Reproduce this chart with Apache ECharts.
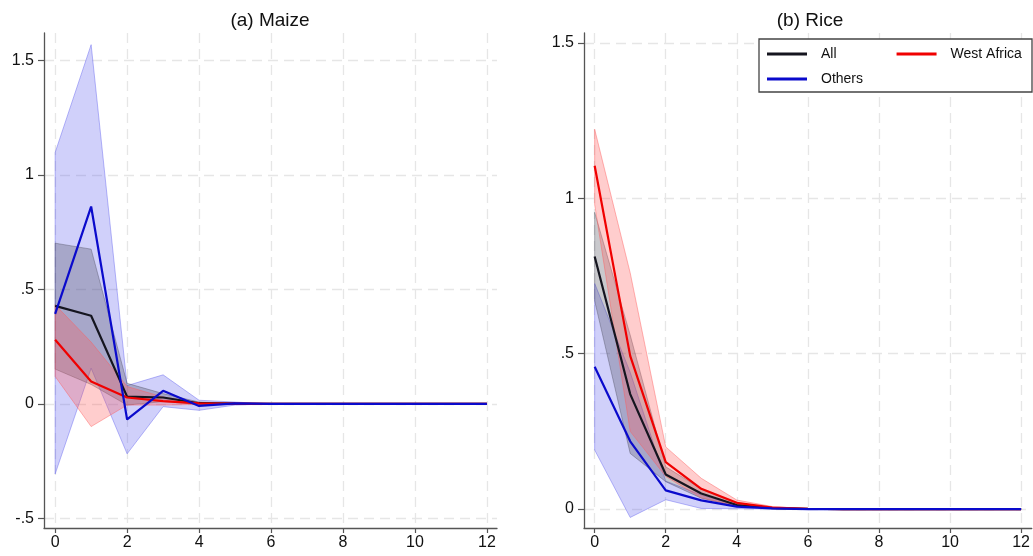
<!DOCTYPE html>
<html>
<head>
<meta charset="utf-8">
<script src="https://cdn.jsdelivr.net/npm/echarts@6/dist/echarts.min.js"></script>
<style>html,body{margin:0;padding:0;background:#fff;}#c{width:1033px;height:556px;}</style>
</head>
<body>
<div id="c"></div>
<script>
// ---- data ----
const horizons = [0,1,2,3,4,5,6,7,8,9,10,11,12];
const xTicks = [0,2,4,6,8,10,12];
const yTicksMaize = [-0.5,0,0.5,1,1.5];
const yTicksRice = [0,0.5,1,1.5];

// (a) Maize
const maizeAll    = [0.428, 0.385, 0.032, 0.028, 0.003, 0.001, 0, 0, 0, 0, 0, 0, 0];
const maizeAllLo  = [0.152, 0.085, -0.005, 0.010, -0.002, 0, 0, 0, 0, 0, 0, 0, 0];
const maizeAllHi  = [0.702, 0.676, 0.090, 0.045, 0.008, 0.002, 0, 0, 0, 0, 0, 0, 0];
const maizeWA     = [0.280, 0.098, 0.028, 0.012, 0.002, 0.001, 0, 0, 0, 0, 0, 0, 0];
const maizeWALo   = [0.120, -0.099, -0.005, -0.005, -0.002, 0, 0, 0, 0, 0, 0, 0, 0];
const maizeWAHi   = [0.433, 0.270, 0.076, 0.030, 0.006, 0.002, 0, 0, 0, 0, 0, 0, 0];
const maizeOth    = [0.393, 0.862, -0.068, 0.057, -0.009, 0.002, 0, 0, 0, 0, 0, 0, 0];
const maizeOthLo  = [-0.306, 0.156, -0.218, -0.012, -0.028, -0.005, 0, 0, 0, 0, 0, 0, 0];
const maizeOthHi  = [1.098, 1.569, 0.080, 0.127, 0.016, 0.008, 0, 0, 0, 0, 0, 0, 0];

// (b) Rice
const riceAll     = [0.813, 0.370, 0.111, 0.050, 0.013, 0.003, 0.001, 0, 0, 0, 0, 0, 0];
const riceAllLo   = [0.670, 0.179, 0.088, 0.035, 0.009, 0.002, 0, 0, 0, 0, 0, 0, 0];
const riceAllHi   = [0.955, 0.560, 0.136, 0.065, 0.018, 0.004, 0.001, 0, 0, 0, 0, 0, 0];
const riceWA      = [1.105, 0.493, 0.151, 0.065, 0.020, 0.005, 0.001, 0, 0, 0, 0, 0, 0];
const riceWALo    = [0.980, 0.250, 0.105, 0.036, 0.011, 0.003, 0, 0, 0, 0, 0, 0, 0];
const riceWAHi    = [1.222, 0.760, 0.200, 0.099, 0.029, 0.008, 0.001, 0, 0, 0, 0, 0, 0];
const riceOth     = [0.458, 0.218, 0.060, 0.028, 0.008, 0.002, 0, 0, 0, 0, 0, 0, 0];
const riceOthLo   = [0.190, -0.027, 0.030, 0.002, 0.001, 0, 0, 0, 0, 0, 0, 0, 0];
const riceOthHi   = [0.726, 0.440, 0.090, 0.045, 0.013, 0.004, 0, 0, 0, 0, 0, 0, 0];

// ---- styles ----
const FONT = 'Liberation Sans, Arial, Helvetica, sans-serif';
const C_ALL = '#15151f', C_WA = '#f00000', C_OTH = '#0a0acc';
const F_ALL = 'rgba(60,60,75,0.28)', S_ALL = 'rgba(60,60,75,0.35)';
const F_WA = 'rgba(255,90,90,0.30)', S_WA = 'rgba(255,90,90,0.45)';
const F_OTH = 'rgba(100,100,240,0.30)', S_OTH = 'rgba(100,100,240,0.45)';

const fmt = v => {
  if (v === 0) return '0';
  let s = String(v);
  return s.replace(/^0\./, '.').replace(/^-0\./, '-.');
};

function pairs(vals) { return horizons.map((h, i) => [h, vals[i]]); }

function band(name, gi, lo, hi, fill, stroke) {
  return {
    type: 'custom', name: name, xAxisIndex: gi, yAxisIndex: gi,
    data: [[0, 0]], silent: true, z: 1,
    renderItem: function (params, api) {
      const pts = [];
      for (let i = 0; i < horizons.length; i++) pts.push(api.coord([horizons[i], hi[i]]));
      for (let i = horizons.length - 1; i >= 0; i--) pts.push(api.coord([horizons[i], lo[i]]));
      return { type: 'polygon', shape: { points: pts }, style: { fill: fill, stroke: stroke, lineWidth: 1 } };
    }
  };
}
function line(name, gi, vals, color) {
  return {
    type: 'line', name: name, xAxisIndex: gi, yAxisIndex: gi, data: pairs(vals),
    symbol: 'none', z: 3, lineStyle: { color: color, width: 2.2 }, itemStyle: { color: color },
    animation: false
  };
}

function xAxis(gi, min, max) {
  return {
    type: 'value', gridIndex: gi, min: min, max: max,
    axisLine: { show: true, onZero: false, lineStyle: { color: '#555', width: 1.3 } },
    axisTick: { show: true, length: 5, customValues: xTicks, lineStyle: { color: '#555', width: 1.2 } },
    axisLabel: { customValues: xTicks, fontSize: 16, color: '#111', margin: 7, fontFamily: FONT },
    splitLine: { show: true, lineStyle: { color: '#e6e6e6', type: [10, 6], width: 1.3 } }
  };
}
function yAxis(gi, min, max, ticks) {
  return {
    type: 'value', gridIndex: gi, min: min, max: max,
    axisLine: { show: true, onZero: false, lineStyle: { color: '#555', width: 1.3 } },
    axisTick: { show: true, length: 6, customValues: ticks, lineStyle: { color: '#555', width: 1.2 } },
    axisLabel: { customValues: ticks, formatter: fmt, fontSize: 16, color: '#111', margin: 10, fontFamily: FONT },
    splitLine: { show: true, lineStyle: { color: '#e6e6e6', type: [10, 6], width: 1.3 } }
  };
}

const chart = echarts.init(document.getElementById('c'), null, { renderer: 'canvas' });
chart.setOption({
  animation: false,
  backgroundColor: '#fff',
  textStyle: { fontFamily: FONT },
  grid: [
    { left: 44, top: 33, width: 453, height: 495 },
    { left: 584, top: 33, width: 454, height: 495 }
  ],
  xAxis: [xAxis(0, -0.31, 12.28), xAxis(1, -0.30, 12.3)],
  yAxis: [yAxis(0, -0.542, 1.62, yTicksMaize), yAxis(1, -0.061, 1.532, yTicksRice)],
  legend: [
    { data: ['All', 'West Africa'], left: 767, top: 47, padding: 0, itemGap: 60, itemWidth: 40, itemHeight: 3,
      icon: 'rect', z: 20, selectedMode: false,
      textStyle: { fontSize: 14, color: '#111', fontFamily: FONT, padding: [0, 0, 0, 9] } },
    { data: ['Others'], left: 767, top: 72, padding: 0, itemWidth: 40, itemHeight: 3,
      icon: 'rect', z: 20, selectedMode: false,
      textStyle: { fontSize: 14, color: '#111', fontFamily: FONT, padding: [0, 0, 0, 9] } }
  ],
  graphic: [
    { type: 'rect', z: 10, shape: { x: 759, y: 39, width: 273, height: 53 },
      style: { fill: '#fff', stroke: '#444', lineWidth: 1.3 } },
    { type: 'text', z: 10, x: 270, y: 21,
      style: { text: '(a) Maize', align: 'center', verticalAlign: 'middle', fontSize: 19, fontFamily: FONT, fill: '#111' } },
    { type: 'text', z: 10, x: 810, y: 21,
      style: { text: '(b) Rice', align: 'center', verticalAlign: 'middle', fontSize: 19, fontFamily: FONT, fill: '#111' } }
  ],
  series: [
    band('band-oth-m', 0, maizeOthLo, maizeOthHi, F_OTH, S_OTH),
    band('band-all-m', 0, maizeAllLo, maizeAllHi, F_ALL, S_ALL),
    band('band-wa-m', 0, maizeWALo, maizeWAHi, F_WA, S_WA),
    line('All', 0, maizeAll, C_ALL),
    line('West Africa', 0, maizeWA, C_WA),
    line('Others', 0, maizeOth, C_OTH),
    band('band-oth-r', 1, riceOthLo, riceOthHi, F_OTH, S_OTH),
    band('band-all-r', 1, riceAllLo, riceAllHi, F_ALL, S_ALL),
    band('band-wa-r', 1, riceWALo, riceWAHi, F_WA, S_WA),
    line('All', 1, riceAll, C_ALL),
    line('West Africa', 1, riceWA, C_WA),
    line('Others', 1, riceOth, C_OTH)
  ]
});
</script>
</body>
</html>
